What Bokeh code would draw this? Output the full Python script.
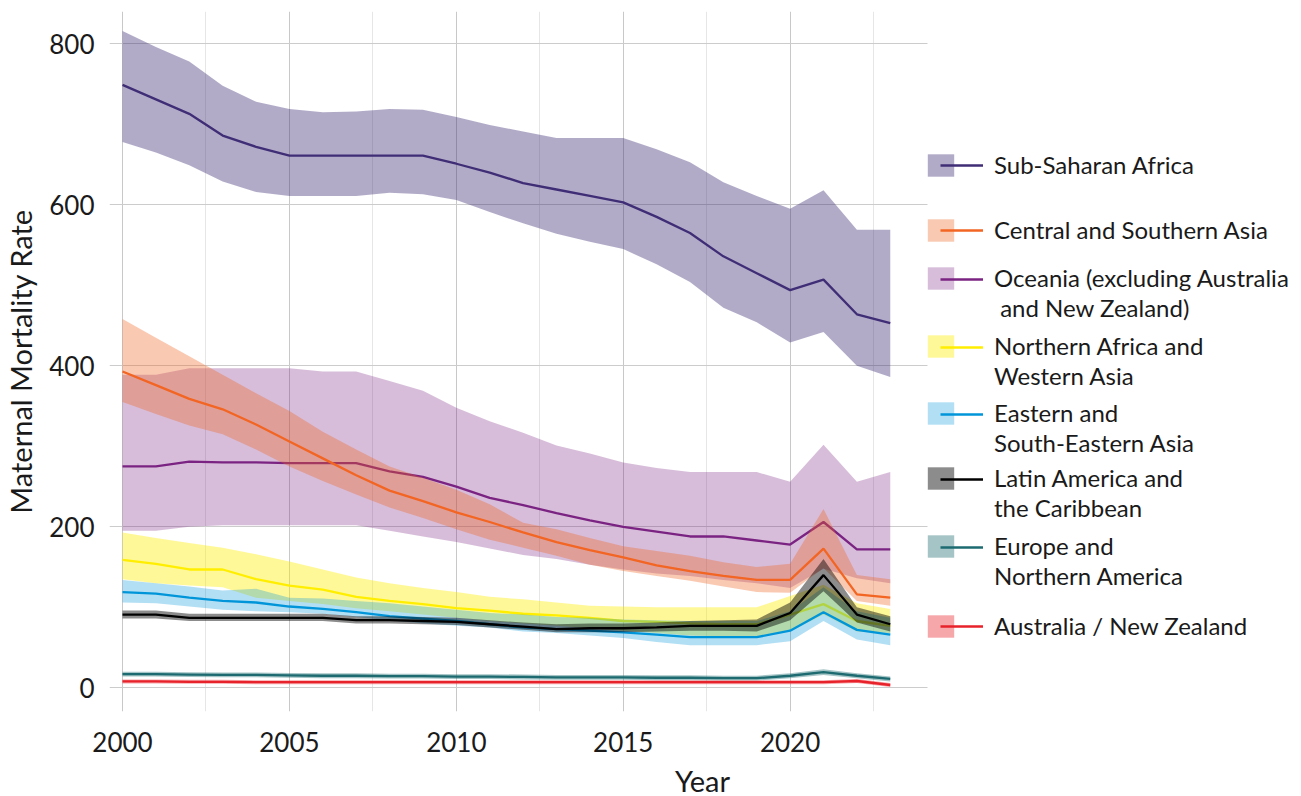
from bokeh.plotting import figure
from bokeh.models import FixedTicker, Legend, LegendItem, Range1d
from bokeh.embed import file_html
from bokeh.resources import INLINE

years = list(range(2000, 2024))

ssa_mid = [749, 731, 713, 686, 672, 661, 661, 661, 661, 661, 651, 640, 627, 619, 611, 603, 585, 565, 536, 515, 494, 507, 464, 453]
ssa_hi = [816, 796, 778, 748, 728, 719, 715, 716, 719, 718, 709, 699, 691, 683, 683, 683, 669, 653, 628, 611, 595, 618, 569, 569]
ssa_lo = [678, 665, 649, 629, 616, 611, 611, 611, 615, 613, 606, 591, 577, 564, 554, 545, 526, 504, 472, 454, 429, 442, 400, 386]

csa_mid = [393, 376, 359, 346, 327, 306, 285, 264, 245, 232, 218, 206, 193, 181, 171, 162, 152, 145, 139, 134, 134, 173, 116, 112]
csa_hi = [458, 435, 412, 389, 366, 344, 318, 296, 275, 261, 246, 228, 205, 197, 186, 176, 170, 164, 156, 150, 154, 222, 140, 135]
csa_lo = [355, 340, 326, 315, 296, 275, 257, 240, 224, 211, 197, 184, 174, 164, 153, 145, 139, 133, 126, 119, 118, 149, 108, 102]

oce_mid = [275, 275, 281, 280, 280, 279, 279, 279, 269, 262, 250, 236, 227, 217, 208, 200, 194, 188, 188, 183, 178, 206, 172, 172]
oce_hi = [389, 389, 397, 397, 397, 397, 393, 393, 381, 369, 348, 331, 317, 301, 291, 280, 273, 268, 268, 268, 256, 302, 256, 268]
oce_lo = [195, 195, 200, 202, 202, 202, 202, 202, 195, 188, 181, 173, 165, 160, 153, 147, 142, 139, 134, 130, 124, 148, 136, 130]

naf_mid = [159, 154, 147, 147, 135, 127, 122, 113, 108, 104, 99, 96, 92, 90, 87, 83, 82, 80, 79, 79, 91, 104, 83, 77]
naf_hi = [193, 186, 180, 174, 166, 157, 147, 137, 130, 124, 119, 113, 110, 106, 102, 101, 100, 100, 100, 100, 114, 128, 105, 98]
naf_lo = [135, 130, 127, 125, 112, 108, 104, 99, 95, 91, 87, 83, 80, 77, 74, 71, 68, 65, 64, 64, 70, 91, 70, 68]

eas_mid = [119, 117, 112, 108, 106, 101, 98, 94, 89, 86, 83, 79, 75, 73, 71, 69, 66, 63, 63, 63, 71, 94, 72, 66]
eas_hi = [134, 130, 126, 121, 123, 112, 111, 108, 105, 101, 97, 93, 91, 88, 87, 85, 84, 83, 83, 83, 95, 125, 95, 87]
eas_lo = [106, 105, 101, 97, 95, 94, 92, 88, 84, 80, 77, 75, 70, 68, 65, 62, 57, 53, 53, 53, 58, 83, 60, 53]

lat_mid = [91, 91, 87, 87, 87, 87, 87, 84, 84, 83, 82, 79, 76, 73, 74, 74, 75, 77, 77, 77, 93, 140, 91, 79]
lat_hi = [96, 96, 92, 92, 92, 92, 92, 89, 89, 88, 87, 84, 81, 79, 80, 80, 81, 83, 84, 85, 106, 160, 100, 89]
lat_lo = [86, 86, 83, 83, 83, 83, 83, 80, 80, 79, 78, 75, 72, 69, 69, 69, 70, 71, 71, 70, 84, 120, 81, 70]

eur_mid = [17, 17, 16.5, 16, 16, 15.5, 15, 15, 14.5, 14.5, 14, 14, 13.5, 13, 13, 13, 12.5, 12.5, 12, 12, 15, 19.5, 15, 11]
eur_hi = [20, 20, 19.5, 19, 19, 18.5, 18, 18, 17.5, 17.5, 17, 17, 16.5, 16, 16, 16, 15.5, 15.5, 15, 15, 18, 23, 18, 14]
eur_lo = [14, 14, 13.5, 13, 13, 12.5, 12, 12, 11.5, 11.5, 11, 11, 10.5, 10, 10, 10, 9.5, 9.5, 9, 9, 12, 16, 12, 8]

aus_mid = [8, 8, 7.5, 7.5, 7, 7, 7, 7, 7, 7, 7, 7, 7, 7, 7, 7, 7, 7, 7, 7, 7, 7, 8.5, 3.5]
aus_hi = [10.5, 10.5, 10, 10, 9.5, 9.5, 9.5, 9.5, 9.5, 9.5, 9.5, 9.5, 9.5, 9.5, 9.5, 9.5, 9.5, 9.5, 9.5, 9.5, 9.5, 9.5, 11, 6]
aus_lo = [5.5, 5.5, 5, 5, 4.5, 4.5, 4.5, 4.5, 4.5, 4.5, 4.5, 4.5, 4.5, 4.5, 4.5, 4.5, 4.5, 4.5, 4.5, 4.5, 4.5, 4.5, 6, 1]

labels = {
    "ssa": ["Sub-Saharan Africa"],
    "csa": ["Central and Southern Asia"],
    "oce": ["Oceania (excluding Australia", " and New Zealand)"],
    "naf": ["Northern Africa and", "Western Asia"],
    "eas": ["Eastern and", "South-Eastern Asia"],
    "lat": ["Latin America and", "the Caribbean"],
    "eur": ["Europe and", "Northern America"],
    "aus": ["Australia / New Zealand"],
}

FONT = "Lato"
TXT = "#1a1a1a"
X0, X1 = 1999.61, 2024.12

p = figure(frame_width=1186, frame_height=700, output_backend="svg", toolbar_location=None,
           x_range=Range1d(X0, 2035.14), y_range=Range1d(-29.4, 840.1),
           min_border_left=99, min_border_top=11, min_border_right=0, min_border_bottom=0)
p.outline_line_color = None
p.background_fill_color = "white"
p.border_fill_color = "white"

p.xaxis.ticker = FixedTicker(ticks=[2000, 2005, 2010, 2015, 2020],
                             minor_ticks=[2002.5, 2007.5, 2012.5, 2017.5, 2022.5])
p.yaxis.ticker = FixedTicker(ticks=[0, 200, 400, 600, 800])
p.xaxis.bounds = (X0, X1)
for ax in (p.xaxis, p.yaxis):
    ax.axis_line_color = None
    ax.major_tick_line_color = None
    ax.minor_tick_line_color = None
    ax.major_label_text_font = FONT
    ax.major_label_text_font_size = "26px"
    ax.major_label_text_color = TXT
    ax.axis_label_text_font = FONT
    ax.axis_label_text_font_size = "29px"
    ax.axis_label_text_font_style = "normal"
    ax.axis_label_text_color = TXT
p.xaxis.axis_label = "Year"
p.yaxis.axis_label = "Maternal Mortality Rate"
p.xaxis.major_label_standoff = 14
p.yaxis.major_label_standoff = 9
p.xaxis.axis_label_standoff = 8
p.yaxis.axis_label_standoff = 8

p.xgrid.grid_line_color = "#c8c8c8"
p.ygrid.grid_line_color = "#cccccc"
p.xgrid.minor_grid_line_color = "#e6e6e6"
p.ygrid.cross_bounds = (X0, X1)

series = [
    ("ssa", ssa_lo, ssa_hi, ssa_mid, "#3f2d76", 0.4),
    ("oce", oce_lo, oce_hi, oce_mid, "#7b2382", 0.3),
    ("csa", csa_lo, csa_hi, csa_mid, "#f26522", 0.35),
    ("naf", naf_lo, naf_hi, naf_mid, "#ffee00", 0.4),
    ("eas", eas_lo, eas_hi, eas_mid, "#0095d9", 0.3),
    ("lat", lat_lo, lat_hi, lat_mid, "#000000", 0.45),
    ("eur", eur_lo, eur_hi, eur_mid, "#1d6b70", 0.4),
    ("aus", aus_lo, aus_hi, aus_mid, "#e8222a", 0.4),
]

rend = {}
for key, lo, hi, mid, col, a in series:
    band = p.varea(x=years, y1=lo, y2=hi, fill_color=col, fill_alpha=a)
    line = p.line(x=years, y=mid, line_color=col, line_width=2.3)
    rend[key] = (band, line)


def style(lg, gw, standoff):
    lg.border_line_color = None
    lg.background_fill_alpha = 0
    lg.padding = 0
    lg.margin = 0
    lg.spacing = 1
    lg.glyph_width = gw
    lg.glyph_height = 28
    lg.label_standoff = standoff
    lg.label_height = 28
    lg.label_text_font = FONT
    lg.label_text_font_size = "24px"
    lg.label_text_color = TXT


# legend blocks: (key, offset of block bottom from frame bottom, in px)
legend_pos = [("ssa", 532), ("csa", 467), ("oce", 389), ("naf", 321),
              ("eas", 254), ("lat", 189), ("eur", 121), ("aus", 71)]
for key, yoff in legend_pos:
    lines = labels[key]
    band, line = rend[key]
    items = [LegendItem(label=lines[0], renderers=[band])]
    for extra in lines[1:]:
        items.append(LegendItem(label=extra, renderers=[]))
    lg = Legend(items=items, location=(815, yoff))
    style(lg, 33, 37)
    p.add_layout(lg)
    # line sample, offset to the right of the swatch as in the original key
    line_off = yoff + 29 * (len(lines) - 1)
    lg2 = Legend(items=[LegendItem(label="", renderers=[line])], location=(831, line_off))
    style(lg2, 43, 0)
    p.add_layout(lg2)

open("out.html", "w").write(file_html(p, INLINE))
